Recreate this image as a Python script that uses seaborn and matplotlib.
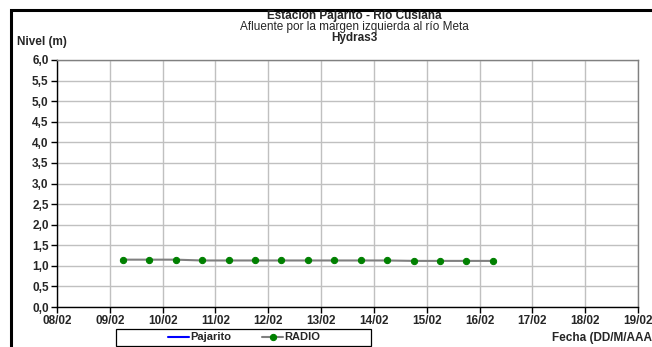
import pandas as pd
import matplotlib
matplotlib.use('Agg')
import matplotlib.pyplot as plt
import matplotlib.dates as mdates
from matplotlib.patches import Rectangle
from matplotlib.ticker import FuncFormatter, MultipleLocator
import seaborn as sns

# data (12 h readings)
fechas = pd.date_range('2016-02-09 06:00', periods=15, freq='12h')
radio_nivel = [1.15, 1.15, 1.15, 1.13, 1.13, 1.13, 1.13, 1.13,
               1.13, 1.13, 1.13, 1.12, 1.12, 1.12, 1.12]
pajarito_fechas = []
pajarito_nivel = []

titulo = 'Estación Pajarito - Río Cusiana'
subtitulo = 'Afluente por la margen izquierda al río Meta'
fuente = 'Hydras3'
x_ini, x_fin = '2016-02-08', '2016-02-19'

sns.set_theme(style='white')
plt.rcParams['font.family'] = ['Liberation Sans', 'DejaVu Sans']

W, H = 652, 347
fig = plt.figure(figsize=(W / 100, H / 100), dpi=100)
ax = fig.add_axes([57 / W, 1 - 307 / H, (638 - 57) / W, (307 - 60) / H])

df = pd.DataFrame({'fecha': fechas, 'nivel': radio_nivel})
ax.plot(pd.to_datetime(pajarito_fechas), pajarito_nivel, color='#0000ff', lw=1.5, label='Pajarito')
sns.lineplot(data=df, x='fecha', y='nivel', ax=ax, color='#808080', lw=1.5,
             marker='o', markersize=4.5, markerfacecolor='#008000', markeredgecolor='#008000',
             label='RADIO', legend=False)

ax.set_xlim(pd.Timestamp(x_ini), pd.Timestamp(x_fin))
ax.set_ylim(0, 6)
ax.xaxis.set_major_locator(mdates.DayLocator())
ax.xaxis.set_major_formatter(mdates.DateFormatter('%d/%m'))
ax.yaxis.set_major_locator(MultipleLocator(0.5))
ax.yaxis.set_major_formatter(FuncFormatter(lambda v, p: f'{v:.1f}'.replace('.', ',')))
ax.grid(True, color='#c0c0c0', lw=1)
ax.set_axisbelow(True)
ax.set_xlabel('')
ax.set_ylabel('')
for s in ['left', 'bottom']:
    ax.spines[s].set_color('black')
    ax.spines[s].set_linewidth(1)
for s in ['top', 'right']:
    ax.spines[s].set_color('#808080')
    ax.spines[s].set_linewidth(1)
ax.tick_params(axis='both', which='major', direction='out', length=4, width=1,
               color='black', labelsize=8.5, pad=2, bottom=True, left=True)
for lbl in ax.get_xticklabels() + ax.get_yticklabels():
    lbl.set_fontweight('bold')

handles, labels = ax.get_legend_handles_labels()
leg = fig.legend(handles, labels, loc='center', bbox_to_anchor=(244 / W, 1 - 337.5 / H),
                 ncol=2, frameon=False, prop={'size': 8, 'weight': 'bold'},
                 handlelength=1.9, handletextpad=0.1, columnspacing=2.8)
fig.patches.append(Rectangle((116 / W, 1 - 346 / H), (371 - 116) / W, 17 / H,
                             transform=fig.transFigure, fill=False, edgecolor='black', lw=0.9))

fig.text(354 / W, 1 - 16.5 / H, titulo, ha='center', va='center', fontsize=8.5, fontweight='bold')
fig.text(354 / W, 1 - 27 / H, subtitulo, ha='center', va='center', fontsize=8.5)
fig.text(354 / W, 1 - 37.5 / H, fuente, ha='center', va='center', fontsize=8.5, fontweight='bold')
fig.text(17 / W, 1 - 42 / H, 'Nivel (m)', ha='left', va='center', fontsize=8.5, fontweight='bold')
fig.text(552 / W, 1 - 338 / H, 'Fecha (DD/M/AAAA)', ha='left', va='center', fontsize=8.5,
         fontweight='bold')

fig.patches.append(Rectangle((11 / W, -0.1), 1.0, 1 - 10 / H + 0.1, transform=fig.transFigure,
                             fill=False, edgecolor='black', lw=2.2, clip_on=False))

fig.savefig('out.png', dpi=100, facecolor='white')
